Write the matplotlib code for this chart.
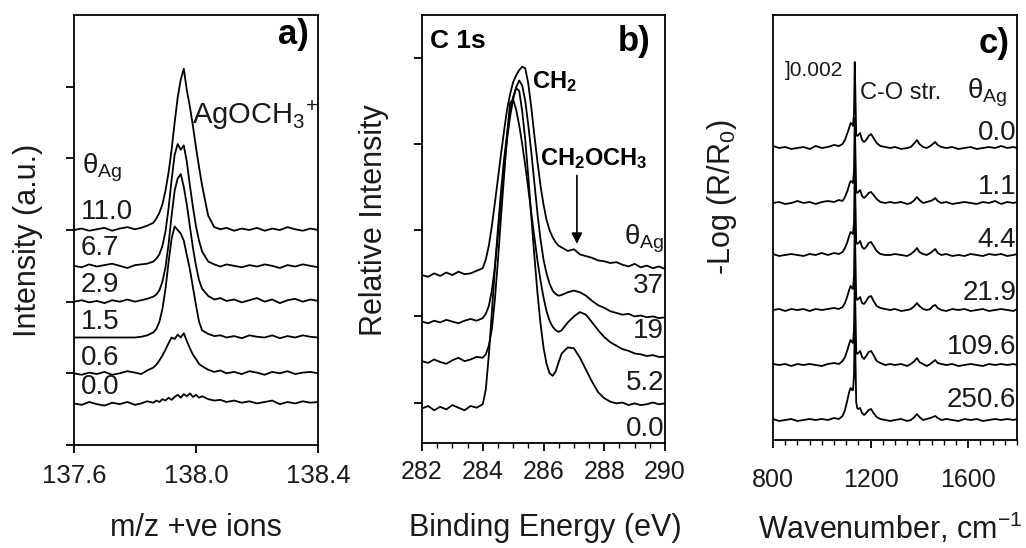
import matplotlib
matplotlib.use('Agg')
import matplotlib.pyplot as plt
from matplotlib.ticker import MultipleLocator, NullFormatter

plt.rcParams['font.family'] = ['Liberation Sans', 'DejaVu Sans']
plt.rcParams['mathtext.fontset'] = 'custom'
plt.rcParams['mathtext.rm'] = 'Liberation Sans'
plt.rcParams['mathtext.it'] = 'Liberation Sans:italic'
plt.rcParams['mathtext.bf'] = 'Liberation Sans:bold'

# ---------------- Panel a data (m/z, offset intensities) ----------------
xa = [137.600, 137.625, 137.650, 137.675, 137.700, 137.725, 137.750, 137.775, 137.800,
      137.820, 137.840, 137.860,
      137.870, 137.880, 137.890, 137.900, 137.910, 137.920, 137.930, 137.940,
      137.950, 137.960, 137.970, 137.980, 137.990, 138.000, 138.010, 138.020,
      138.040, 138.060, 138.080, 138.100,
      138.125, 138.150, 138.175, 138.200, 138.225, 138.250, 138.275, 138.300,
      138.325, 138.350, 138.375, 138.400]
a_110 = [3.00, 3.02, 2.99, 3.01, 3.03, 2.99, 3.02, 3.04, 3.01,
         3.03, 3.06, 3.10,
         3.16, 3.24, 3.36, 3.55, 3.80, 4.12, 4.50, 4.85,
         5.10, 5.25, 4.95, 4.72, 4.45, 4.15, 3.88, 3.62,
         3.20, 3.04, 3.01, 3.03,
         2.99, 3.02, 3.00, 3.03, 2.99, 3.02, 3.00, 3.04, 3.01, 2.99, 3.02, 3.00]
a_67 = [2.50, 2.48, 2.52, 2.49, 2.51, 2.53, 2.50, 2.47, 2.51,
        2.52, 2.53, 2.56,
        2.60, 2.66, 2.78, 2.98, 3.30, 3.70, 4.05, 4.20,
        4.12, 4.18, 3.95, 3.62, 3.32, 3.05, 2.85, 2.70,
        2.56, 2.52, 2.49, 2.52,
        2.50, 2.48, 2.51, 2.49, 2.52, 2.50, 2.47, 2.51, 2.49, 2.52, 2.50, 2.48]
a_29 = [2.00, 2.02, 1.99, 2.01, 1.98, 2.02, 2.00, 2.03, 2.00,
        2.02, 2.04, 2.07,
        2.10, 2.16, 2.28, 2.48, 2.80, 3.20, 3.55, 3.72,
        3.78, 3.60, 3.35, 3.05, 2.75, 2.50, 2.30, 2.18,
        2.08, 2.03, 2.05, 2.01,
        2.03, 1.99, 2.02, 2.05, 2.00, 2.03, 1.98, 2.02, 2.04, 2.00, 2.03, 2.01]
a_15 = [1.50, 1.50, 1.50, 1.50, 1.50, 1.50, 1.50, 1.50, 1.50,
        1.51, 1.53, 1.57,
        1.62, 1.72, 1.90, 2.18, 2.55, 2.88, 3.05, 3.00,
        2.95, 2.85, 2.65, 2.45, 2.20, 1.95, 1.72, 1.60,
        1.55, 1.52, 1.53, 1.50,
        1.52, 1.49, 1.53, 1.51, 1.50, 1.53, 1.49, 1.52, 1.50, 1.53, 1.51, 1.50]
a_06 = [1.00, 0.98, 1.01, 0.99, 1.02, 0.98, 1.00, 1.03, 1.01,
        0.99, 1.04, 1.08,
        1.12, 1.18, 1.25, 1.33, 1.42, 1.50, 1.48, 1.54,
        1.50, 1.56, 1.45, 1.35, 1.26, 1.20, 1.13, 1.10,
        1.05, 1.02, 1.04, 1.00,
        1.02, 0.99, 1.03, 1.01, 0.98, 1.02, 1.00, 1.03, 0.99, 1.01, 1.02, 1.00]
a_00 = [0.58, 0.56, 0.60, 0.57, 0.55, 0.59, 0.57, 0.60, 0.56,
        0.58, 0.61, 0.59,
        0.62, 0.60, 0.64, 0.62, 0.66, 0.63, 0.67, 0.70,
        0.66, 0.71, 0.68, 0.72, 0.67, 0.70, 0.66, 0.68,
        0.64, 0.62, 0.63, 0.60,
        0.62, 0.59, 0.61, 0.58, 0.60, 0.62, 0.57, 0.60, 0.58, 0.61, 0.59, 0.60]
a_series = [a_110, a_67, a_29, a_15, a_06, a_00]
a_labels = ['11.0', '6.7', '2.9', '1.5', '0.6', '0.0']
a_label_y = [3.25, 2.75, 2.23, 1.72, 1.21, 0.81]
a_xticks = [137.6, 138.0, 138.4]
a_xticklabels = ['137.6', '138.0', '138.4']

# ---------------- Panel b data (C 1s XPS) ----------------
xb = [282.0, 282.2, 282.4, 282.6, 282.8, 283.0, 283.2, 283.4, 283.6, 283.8,
      284.0, 284.1, 284.2, 284.3, 284.4, 284.5, 284.6, 284.7, 284.8, 284.9,
      285.0, 285.1, 285.2, 285.3, 285.4, 285.5, 285.6, 285.7, 285.8, 285.9,
      286.0, 286.1, 286.2, 286.3, 286.4, 286.5, 286.6,
      286.8, 287.0, 287.2, 287.4, 287.6, 287.8, 288.0, 288.2, 288.4, 288.6,
      288.8, 289.0, 289.2, 289.4, 289.6, 289.8, 290.0]
b_37 = [1.48, 1.46, 1.50, 1.47, 1.51, 1.48, 1.52, 1.49, 1.50, 1.53,
        1.56, 1.66, 1.82, 2.05, 2.32, 2.60, 2.88, 3.15, 3.40, 3.58,
        3.72, 3.80, 3.86, 3.90, 3.88, 3.70, 3.42, 3.10, 2.80, 2.52,
        2.30, 2.12, 2.00, 1.92, 1.86, 1.82, 1.80,
        1.76, 1.78, 1.72, 1.70, 1.68, 1.65, 1.64, 1.62, 1.63, 1.60,
        1.58, 1.61, 1.57, 1.59, 1.56, 1.58, 1.55]
b_19 = [0.94, 0.92, 0.95, 0.93, 0.96, 0.94, 0.92, 0.95, 0.97, 0.95,
        0.98, 1.03, 1.12, 1.30, 1.58, 1.95, 2.36, 2.72, 3.05, 3.32,
        3.52, 3.66, 3.74, 3.68, 3.50, 3.22, 2.90, 2.55, 2.20, 1.90,
        1.66, 1.50, 1.38, 1.30, 1.26, 1.24, 1.25,
        1.28, 1.30, 1.28, 1.24, 1.18, 1.13, 1.10, 1.06, 1.04, 1.02,
        1.03, 1.00, 1.01, 0.99, 1.00, 0.98, 0.99]
b_52 = [0.48, 0.46, 0.50, 0.47, 0.45, 0.49, 0.52, 0.48, 0.50, 0.53,
        0.52, 0.56, 0.66, 0.85, 1.20, 1.65, 2.15, 2.62, 3.10, 3.48,
        3.52, 3.40, 3.22, 3.00, 2.75, 2.48, 2.20, 1.92, 1.65, 1.42,
        1.22, 1.06, 0.95, 0.88, 0.84, 0.82, 0.84,
        0.93, 1.00, 1.05, 1.02, 0.93, 0.84, 0.76, 0.70, 0.66, 0.62,
        0.60, 0.57, 0.56, 0.54, 0.55, 0.53, 0.53]
b_00 = [-0.07, -0.04, -0.09, -0.05, -0.08, -0.03, -0.06, -0.09, -0.04, -0.06,
        -0.02, 0.15, 0.55, 1.05, 1.55, 2.02, 2.45, 2.82, 3.12, 3.38,
        3.55, 3.65, 3.62, 3.38, 3.05, 2.62, 2.15, 1.70, 1.28, 0.92,
        0.64, 0.45, 0.34, 0.31, 0.36, 0.47, 0.57,
        0.64, 0.63, 0.52, 0.38, 0.24, 0.12, 0.05, 0.01, -0.01, 0.00,
        -0.03, -0.01, -0.03, -0.02, 0.00, -0.02, -0.01]
b_series = [b_37, b_19, b_52, b_00]
b_labels = ['37', '19', '5.2', '0.0']
b_label_y = [1.35, 0.83, 0.23, -0.31]
b_xticks = [282, 284, 286, 288, 290]

# ---------------- Panel c data (IR, -log(R/R0), offset) ----------------
xc = [800, 825, 850, 875, 900, 925, 950, 975, 1000, 1025,
      1050, 1070, 1085, 1095, 1105, 1112, 1118, 1124, 1128, 1132,
      1135, 1138, 1141, 1145, 1150, 1157, 1165, 1173, 1182, 1192,
      1202, 1212, 1225, 1240, 1260, 1280, 1300, 1325, 1350, 1365,
      1380, 1390, 1400, 1415, 1430, 1445, 1455, 1465, 1475, 1490,
      1510, 1535, 1560, 1585, 1610, 1635, 1660, 1685, 1710, 1735,
      1760, 1785, 1800]
c_00 = [0.02, 0.00, 0.01, -0.01, 0.00, 0.01, -0.01, 0.02, 0.00, 0.01,
        0.03, 0.02, 0.04, 0.08, 0.15, 0.20, 0.25, 0.24, 0.22, 0.35,
        0.86, 0.50, 0.14, 0.12, 0.13, 0.15, 0.08, 0.06, 0.08, 0.12,
        0.14, 0.10, 0.05, 0.02, 0.01, 0.00, 0.01, -0.01, 0.00, 0.01,
        0.05, 0.08, 0.04, 0.01, 0.00, 0.02, 0.04, 0.06, 0.03, 0.01,
        0.00, 0.01, -0.01, 0.00, 0.01, -0.01, 0.00, 0.01, 0.00, 0.02,
        0.00, 0.01, 0.00]
c_11 = [0.00, 0.01, -0.01, 0.00, 0.02, 0.00, 0.01, -0.01, 0.01, 0.02,
        0.01, 0.03, 0.02, 0.06, 0.12, 0.18, 0.22, 0.21, 0.20, 0.32,
        0.85, 0.48, 0.12, 0.10, 0.11, 0.13, 0.07, 0.05, 0.07, 0.10,
        0.11, 0.08, 0.04, 0.01, 0.00, 0.01, 0.00, 0.01, -0.01, 0.00,
        0.03, 0.06, 0.03, 0.00, 0.01, 0.02, 0.03, 0.05, 0.02, 0.00,
        0.01, -0.01, 0.00, 0.01, 0.00, -0.01, 0.01, 0.00, 0.02, -0.01,
        0.01, 0.00, 0.01]
c_44 = [0.01, -0.01, 0.00, 0.01, 0.00, -0.01, 0.01, 0.00, 0.02, 0.00,
        0.02, 0.01, 0.03, 0.07, 0.13, 0.19, 0.23, 0.22, 0.21, 0.33,
        0.85, 0.50, 0.13, 0.11, 0.12, 0.14, 0.08, 0.06, 0.08, 0.12,
        0.13, 0.09, 0.04, 0.01, 0.00, 0.00, 0.01, 0.00, -0.01, 0.01,
        0.04, 0.07, 0.03, 0.01, 0.00, 0.02, 0.04, 0.06, 0.02, 0.00,
        0.01, -0.01, 0.00, -0.01, 0.01, 0.00, -0.01, 0.01, 0.00, 0.01,
        -0.01, 0.00, 0.01]
c_219 = [0.00, 0.01, -0.01, 0.01, 0.00, 0.01, -0.01, 0.01, 0.00, 0.01,
         0.02, 0.01, 0.03, 0.07, 0.14, 0.20, 0.24, 0.22, 0.21, 0.34,
         0.86, 0.50, 0.13, 0.10, 0.11, 0.13, 0.07, 0.06, 0.09, 0.13,
         0.14, 0.09, 0.04, 0.02, 0.01, 0.00, 0.01, -0.01, 0.00, 0.01,
         0.04, 0.07, 0.04, 0.01, 0.00, 0.01, 0.04, 0.05, 0.02, 0.00,
         -0.01, 0.01, 0.00, 0.01, -0.01, 0.00, 0.01, -0.01, 0.00, 0.01,
         0.00, -0.01, 0.01]
c_1096 = [0.01, 0.00, 0.01, -0.01, 0.01, 0.00, 0.01, 0.00, -0.01, 0.01,
          0.02, 0.01, 0.04, 0.08, 0.15, 0.21, 0.25, 0.23, 0.22, 0.35,
          0.87, 0.52, 0.14, 0.11, 0.12, 0.14, 0.08, 0.06, 0.09, 0.13,
          0.14, 0.10, 0.04, 0.02, 0.00, 0.01, 0.00, 0.01, -0.01, 0.01,
          0.04, 0.07, 0.03, 0.01, -0.01, 0.01, 0.03, 0.05, 0.02, 0.01,
          0.00, 0.01, -0.01, 0.00, 0.01, 0.00, -0.01, 0.01, 0.00, 0.01,
          0.00, 0.01, 0.00]
c_2506 = [0.01, -0.01, 0.00, 0.01, -0.01, 0.00, 0.01, 0.00, 0.01, 0.00,
          0.02, 0.01, 0.04, 0.10, 0.20, 0.28, 0.32, 0.30, 0.30, 0.45,
          0.95, 0.60, 0.18, 0.12, 0.11, 0.12, 0.07, 0.05, 0.07, 0.10,
          0.11, 0.07, 0.03, 0.01, 0.00, -0.01, 0.00, 0.01, -0.01, 0.00,
          0.03, 0.06, 0.03, 0.00, 0.01, 0.02, 0.03, 0.04, 0.02, 0.00,
          0.01, 0.00, -0.01, 0.01, 0.00, 0.01, -0.01, 0.00, 0.01, 0.00,
          0.01, 0.00, 0.01]
c_series = [c_00, c_11, c_44, c_219, c_1096, c_2506]
c_offsets = [2.92, 2.37, 1.85, 1.30, 0.75, 0.20]
c_labels = ['0.0', '1.1', '4.4', '21.9', '109.6', '250.6']
c_label_y = [3.07, 2.53, 2.00, 1.47, 0.93, 0.40]
c_xticks = [800, 1200, 1600]

# ---------------- Figure ----------------
W, H = 1026, 548
fig = plt.figure(figsize=(W / 100, H / 100), dpi=100)


def rect(l, r, t, b):
    return [l / W, 1 - b / H, (r - l) / W, (b - t) / H]


TXT = '#1a1a1a'
LW = 1.3


def style(ax):
    for s in ax.spines.values():
        s.set_linewidth(1.3)
    ax.tick_params(which='major', direction='out', length=6, width=1.3, colors='k',
                   labelcolor=TXT)
    ax.tick_params(which='minor', direction='out', length=3.5, width=1.0)


# Panel a
ax1 = fig.add_axes(rect(74, 318, 15, 445))
for y in a_series:
    ax1.plot(xa, y, color='k', lw=LW)
ax1.set_xlim(137.6, 138.4)
ax1.set_ylim(0, 6)
ax1.set_xticks(a_xticks)
ax1.set_xticklabels(a_xticklabels)
ax1.set_yticks([0, 1, 2, 3, 4, 5])
ax1.yaxis.set_major_formatter(NullFormatter())
style(ax1)
ax1.tick_params(axis='x', labelsize=18.5, pad=8)
for lab, yy in zip(a_labels, a_label_y):
    ax1.text(137.622, yy, lab, fontsize=20, color=TXT, ha='left', va='center')
ax1.text(137.625, 3.87, 'θ$_{\\mathregular{Ag}}$', fontsize=20, color=TXT,
         ha='left', va='center')
ax1.text(137.987, 4.6, 'AgOCH$_3$$^{+}$', fontsize=21, color=TXT, ha='left', va='center')
ax1.text(138.32, 5.73, 'a)', fontsize=25, fontweight='bold', ha='center', va='center')

# Panel b
ax2 = fig.add_axes(rect(422, 665, 15, 443))
for y in b_series:
    ax2.plot(xb, y, color='k', lw=LW)
ax2.set_xlim(282, 290)
ax2.set_ylim(-0.47, 4.5)
ax2.set_xticks(b_xticks)
ax2.xaxis.set_minor_locator(MultipleLocator(0.5))
ax2.set_yticks([0, 1, 2, 3, 4])
ax2.yaxis.set_major_formatter(NullFormatter())
style(ax2)
ax2.tick_params(axis='x', labelsize=18, pad=6.5)
for lab, yy in zip(b_labels, b_label_y):
    ax2.text(289.97, yy, lab, fontsize=20, color=TXT, ha='right', va='center')
ax2.text(289.97, 1.90, 'θ$_{\\mathregular{Ag}}$', fontsize=20, color=TXT,
         ha='right', va='center')
ax2.text(282.26, 4.2, 'C 1s', fontsize=19, fontweight='bold', ha='left', va='center')
ax2.text(289.0, 4.19, 'b)', fontsize=25, fontweight='bold', ha='center', va='center')
ax2.text(285.62, 3.73, r'CH$_\mathbf{2}$', fontsize=17, fontweight='bold',
         ha='left', va='center')
ax2.text(285.88, 2.83, r'CH$_\mathbf{2}$OCH$_\mathbf{3}$', fontsize=17,
         fontweight='bold', ha='left', va='center')
ax2.annotate('', xy=(287.1, 1.81), xytext=(287.1, 2.67),
             arrowprops=dict(arrowstyle='-|>', color='k', lw=1.2, mutation_scale=16))

# Panel c
ax3 = fig.add_axes(rect(773, 1017, 15, 440))
for y, off in zip(c_series, c_offsets):
    ax3.plot(xc, [v + off for v in y], color='k', lw=LW)
ax3.set_xlim(800, 1800)
ax3.set_ylim(0, 4.25)
ax3.set_xticks(c_xticks)
ax3.xaxis.set_minor_locator(MultipleLocator(50))
ax3.set_yticks([])
style(ax3)
ax3.tick_params(axis='x', labelsize=18, pad=14)
for lab, yy in zip(c_labels, c_label_y):
    ax3.text(1797, yy, lab, fontsize=20, color=TXT, ha='right', va='center')
ax3.text(1706, 3.96, 'c)', fontsize=25, fontweight='bold', ha='center', va='center')
ax3.text(849, 3.70, ']0.002', fontsize=15, color=TXT, ha='left', va='center')
ax3.text(1156, 3.47, 'C-O str.', fontsize=17, color=TXT, ha='left', va='center')
ax3.text(1595, 3.47, 'θ$_{\\mathregular{Ag}}$', fontsize=20, color=TXT,
         ha='left', va='center')

# Axis titles
fig.text(28 / W, 1 - 240 / H, 'Intensity (a.u.)', rotation=90, fontsize=22,
         color=TXT, ha='center', va='center')
fig.text(374 / W, 1 - 220 / H, 'Relative Intensity', rotation=90, fontsize=22,
         color=TXT, ha='center', va='center')
fig.text(722 / W, 1 - 197 / H, '-Log (R/R$_0$)', rotation=90, fontsize=22,
         color=TXT, ha='center', va='center')
fig.text(196 / W, 1 - 528 / H, 'm/z +ve ions', fontsize=22, color=TXT,
         ha='center', va='center')
fig.text(545 / W, 1 - 528 / H, 'Binding Energy (eV)', fontsize=22, color=TXT,
         ha='center', va='center')
fig.text(890 / W, 1 - 528 / H, 'Wavenumber, cm$^{-1}$', fontsize=22, color=TXT,
         ha='center', va='center')

fig.savefig('out.png', dpi=100)
